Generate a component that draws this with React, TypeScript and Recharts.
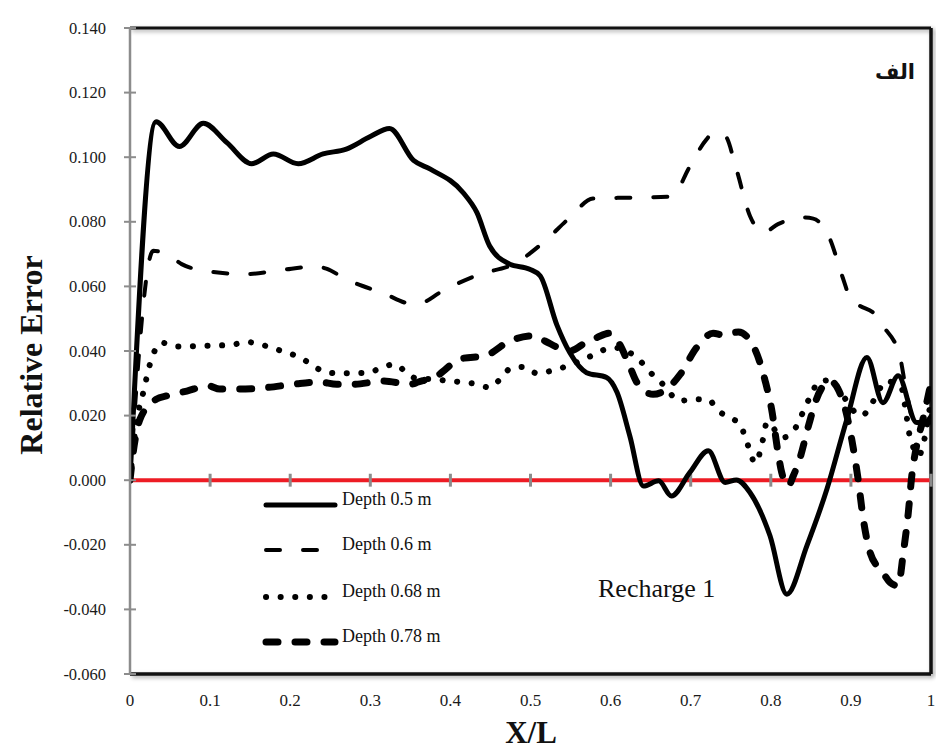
import React from 'react';
import { LineChart, Line, XAxis, YAxis, ReferenceLine } from 'recharts';

const xTicks = [0, 0.1, 0.2, 0.3, 0.4, 0.5, 0.6, 0.7, 0.8, 0.9, 1];
const yTicks = [-0.06, -0.04, -0.02, 0, 0.02, 0.04, 0.06, 0.08, 0.1, 0.12, 0.14];
const seriesNames = ['Depth 0.5 m', 'Depth 0.6 m', 'Depth 0.68 m', 'Depth 0.78 m'];

// [X/L, relative error]
const depth05: [number, number][] = [
  [0, 0], [0.0325, 0.111], [0.0616, 0.1033], [0.0915, 0.1105], [0.121, 0.1045], [0.152, 0.098],
  [0.179, 0.101], [0.21, 0.098], [0.241, 0.101], [0.27, 0.1025], [0.3, 0.1064], [0.324, 0.1089],
  [0.354, 0.099], [0.375, 0.0963], [0.416, 0.089], [0.433, 0.0829], [0.449, 0.0725], [0.474, 0.0669],
  [0.499, 0.0653], [0.512, 0.0633], [0.533, 0.048], [0.549, 0.0395], [0.57, 0.0333], [0.595, 0.0318],
  [0.608, 0.0272], [0.624, 0.0137], [0.641, -0.0018], [0.66, -0.0002], [0.676, -0.0049], [0.699, 0.0024],
  [0.722, 0.0091], [0.743, -0.0007], [0.757, 0.0001], [0.774, -0.0038], [0.799, -0.0172], [0.82, -0.0353],
  [0.845, -0.0203], [0.87, -0.0028], [0.895, 0.0189], [0.92, 0.038], [0.94, 0.024], [0.959, 0.0323],
  [0.982, 0.0179], [1, 0.018],
];

const depth06: [number, number][] = [
  [0, 0], [0.029, 0.071], [0.05, 0.0694], [0.0645, 0.0669], [0.1, 0.0646], [0.144, 0.0638],
  [0.187, 0.065], [0.233, 0.0662], [0.245, 0.0655], [0.27, 0.0622], [0.316, 0.0579], [0.354, 0.0545],
  [0.366, 0.055], [0.387, 0.0581], [0.437, 0.0638], [0.479, 0.0669], [0.516, 0.0736], [0.549, 0.0813],
  [0.578, 0.0872], [0.628, 0.0875], [0.672, 0.0878], [0.68, 0.0885], [0.697, 0.0963], [0.72, 0.1056],
  [0.728, 0.1076], [0.743, 0.1066], [0.757, 0.0963], [0.774, 0.0818], [0.791, 0.0767], [0.809, 0.0793],
  [0.843, 0.0813], [0.853, 0.081], [0.874, 0.0746], [0.889, 0.0633], [0.901, 0.0555], [0.911, 0.054],
  [0.932, 0.0509], [0.94, 0.0478], [0.961, 0.0385], [0.968, 0.0292], [0.982, 0.0158], [1, 0.02],
];

const depth068: [number, number][] = [
  [0, 0], [0.008, 0.0179], [0.0166, 0.0272], [0.025, 0.036], [0.0395, 0.0426], [0.056, 0.0414],
  [0.0915, 0.0416], [0.127, 0.0419], [0.145, 0.0428], [0.162, 0.0421], [0.179, 0.0408], [0.196, 0.0395],
  [0.212, 0.038], [0.228, 0.0356], [0.243, 0.0335], [0.262, 0.0331], [0.298, 0.0333], [0.314, 0.0349],
  [0.331, 0.0359], [0.345, 0.0333], [0.36, 0.0313], [0.379, 0.0313], [0.397, 0.0307], [0.414, 0.0304],
  [0.433, 0.0297], [0.449, 0.0287], [0.463, 0.0315], [0.475, 0.0346], [0.492, 0.0351], [0.508, 0.0331],
  [0.525, 0.0338], [0.543, 0.0351], [0.576, 0.0385], [0.591, 0.0403], [0.605, 0.041], [0.637, 0.0369],
  [0.649, 0.0335], [0.6625, 0.0304], [0.687, 0.0246], [0.704, 0.0251], [0.722, 0.0249], [0.7345, 0.0215],
  [0.748, 0.0194], [0.762, 0.0173], [0.768, 0.0132], [0.774, 0.0091], [0.78, 0.0053], [0.787, 0.0091],
  [0.791, 0.0135], [0.795, 0.0179], [0.815, 0.0132], [0.827, 0.0148], [0.836, 0.0187], [0.843, 0.0228],
  [0.851, 0.0266], [0.859, 0.0304], [0.876, 0.031], [0.886, 0.0277], [0.913, 0.0199], [0.925, 0.0232],
  [0.934, 0.0273], [0.943, 0.0307], [0.963, 0.0287], [0.9675, 0.0232], [0.973, 0.0142], [0.978, 0.0101],
  [0.984, 0.0075], [1, 0.025],
];

const depth078: [number, number][] = [
  [0, 0], [0.004, 0.0086], [0.0125, 0.0189], [0.033, 0.0251], [0.046, 0.0261], [0.071, 0.0276],
  [0.098, 0.0292], [0.112, 0.0282], [0.137, 0.0282], [0.171, 0.0287], [0.204, 0.0297], [0.237, 0.0304],
  [0.258, 0.0297], [0.279, 0.0297], [0.316, 0.0307], [0.35, 0.0297], [0.36, 0.0304], [0.383, 0.0323],
  [0.412, 0.0375], [0.445, 0.0387], [0.474, 0.0431], [0.5035, 0.0447], [0.518, 0.0431], [0.537, 0.0408],
  [0.549, 0.04], [0.57, 0.0428], [0.583, 0.0442], [0.599, 0.0455], [0.61, 0.0426], [0.622, 0.0364],
  [0.633, 0.0302], [0.653, 0.0266], [0.67, 0.0282], [0.687, 0.0328], [0.7075, 0.0411], [0.728, 0.0455],
  [0.741, 0.0449], [0.7595, 0.0459], [0.78, 0.0406], [0.793, 0.0307], [0.801, 0.022], [0.809, 0.0086],
  [0.8136, 0.0024], [0.822, -0.0018], [0.828, 0.0013], [0.836, 0.0065], [0.847, 0.0168], [0.857, 0.0251],
  [0.874, 0.0307], [0.884, 0.0282], [0.893, 0.022], [0.901, 0.0127], [0.909, 0.0003], [0.9155, -0.0121],
  [0.924, -0.0224], [0.94, -0.0286], [0.949, -0.0317], [0.959, -0.0327], [0.9655, -0.0224], [0.9717, -0.01],
  [0.976, 0.0013], [0.982, 0.0106], [0.99, 0.0189], [1, 0.0302],
];

const toPoints = (pairs: [number, number][]) => pairs.map(([x, y]) => ({ x, y }));

const lineStyles = [
  { strokeWidth: 5, dash: undefined },
  { strokeWidth: 4, dash: '14 23' },
  { strokeWidth: 6, dash: '0.1 14.5' },
  { strokeWidth: 7, dash: '12 17' },
];
const seriesData = [depth05, depth06, depth068, depth078].map(toPoints);

const serif = '"Liberation Serif", "Times New Roman", serif';

const YTick = (props: any) => {
  const { x, y, payload } = props;
  return (
    <g>
      <line x1={x - 6} x2={x + 6} y1={y} y2={y} stroke="#8c8c8c" strokeWidth={2} />
      <text
        x={x - 24}
        y={y}
        dy={5.5}
        textAnchor="end"
        fill="#1a1a1a"
        style={{ fontFamily: serif, fontSize: 16.5 }}
      >
        {payload.value.toFixed(3)}
      </text>
    </g>
  );
};

const XTick = (props: any) => {
  const { x, y, payload } = props;
  return (
    <text x={x} y={y} dy={32} textAnchor="middle" fill="#1a1a1a" style={{ fontFamily: serif, fontSize: 17 }}>
      {String(payload.value)}
    </text>
  );
};

const legendY = [505, 550, 597, 642];

export default function App() {
  return (
    <div style={{ position: 'absolute', left: 0, top: 0, width: 936, height: 752, background: '#fff', fontFamily: serif }}>
      <style>{`.plot-border line { filter: drop-shadow(2px 2px 2px rgba(0,0,0,0.35)); }`}</style>
      <LineChart width={936} height={752} margin={{ top: 28, right: 5, bottom: 0, left: 0 }}>
        <XAxis
          dataKey="x"
          type="number"
          domain={[0, 1]}
          ticks={xTicks}
          height={78}
          axisLine={false}
          tickLine={false}
          tickSize={0}
          tickMargin={0}
          tick={<XTick />}
          allowDataOverflow
        />
        <YAxis
          type="number"
          domain={[-0.06, 0.14]}
          ticks={yTicks}
          width={130}
          axisLine={{ stroke: '#8c8c8c', strokeWidth: 2.5 }}
          tickLine={false}
          tickSize={0}
          tickMargin={0}
          tick={<YTick />}
          interval={0}
          allowDataOverflow
        />
        <ReferenceLine className="plot-border" y={0.14} stroke="#111" strokeWidth={3} />
        <ReferenceLine className="plot-border" y={-0.06} stroke="#111" strokeWidth={3.5} />
        <ReferenceLine className="plot-border" x={1} stroke="#111" strokeWidth={3.5} />
        <ReferenceLine y={0} stroke="#ed1c24" strokeWidth={4} />
        {xTicks.slice(1).map((t) => (
          <ReferenceLine
            key={t}
            segment={[{ x: t, y: -0.002 }, { x: t, y: 0.002 }]}
            stroke="#8c8c8c"
            strokeWidth={3}
          />
        ))}
        {seriesData.map((d, i) => (
          <Line
            key={seriesNames[i]}
            data={d}
            dataKey="y"
            name={seriesNames[i]}
            type="monotone"
            stroke="#000"
            strokeWidth={lineStyles[i].strokeWidth}
            strokeDasharray={lineStyles[i].dash}
            strokeLinecap="round"
            dot={false}
            activeDot={false}
            isAnimationActive={false}
          />
        ))}
      </LineChart>
      <svg
        width={936}
        height={752}
        style={{ position: 'absolute', left: 0, top: 0, pointerEvents: 'none' }}
      >
        {seriesNames.map((name, i) => (
          <g key={name}>
            <line
              x1={266}
              x2={335}
              y1={legendY[i]}
              y2={legendY[i]}
              stroke="#000"
              strokeWidth={lineStyles[i].strokeWidth}
              strokeDasharray={lineStyles[i].dash}
              strokeLinecap="round"
            />
            <text x={342} y={legendY[i]} fill="#111" style={{ fontFamily: serif, fontSize: 18 }}>
              {name}
            </text>
          </g>
        ))}
        <text x={598} y={597} fill="#111" style={{ fontFamily: serif, fontSize: 26 }}>
          Recharge 1
        </text>
        <text
          x={895}
          y={79}
          textAnchor="middle"
          fill="#111"
          style={{ fontFamily: '"DejaVu Sans", sans-serif', fontWeight: 'bold', fontSize: 21 }}
        >
          الف
        </text>
        <text
          transform="translate(31,355) rotate(-90)"
          textAnchor="middle"
          dominantBaseline="central"
          fill="#111"
          style={{ fontFamily: serif, fontWeight: 'bold', fontSize: 32 }}
        >
          Relative Error
        </text>
        <text
          x={531}
          y={743}
          textAnchor="middle"
          fill="#111"
          style={{ fontFamily: serif, fontWeight: 'bold', fontSize: 31 }}
        >
          X/L
        </text>
      </svg>
    </div>
  );
}
